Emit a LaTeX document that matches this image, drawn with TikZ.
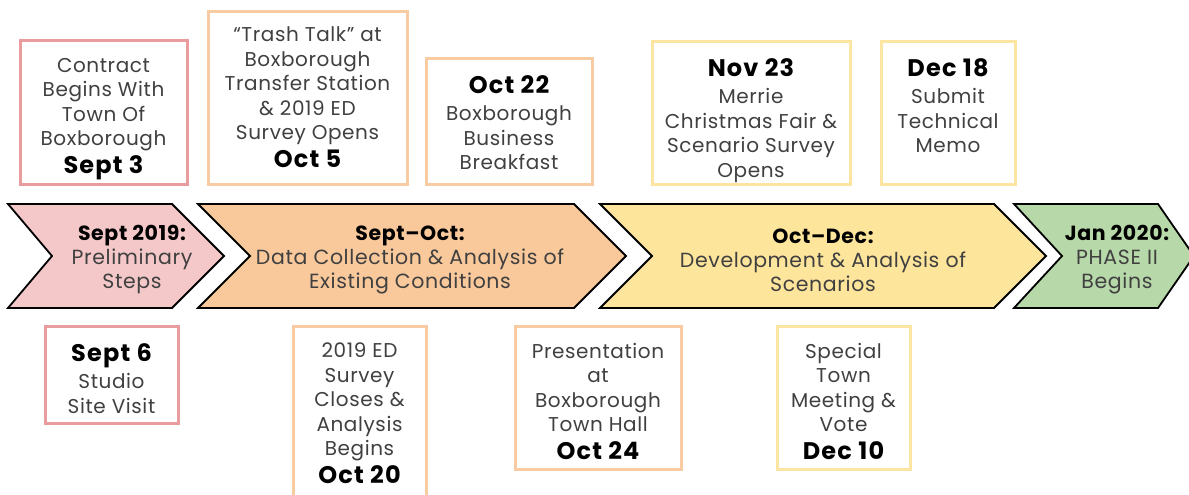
\documentclass[tikz,border=0pt]{standalone}
\usepackage{fontspec}
\setmainfont[LetterSpace=3]{Poppins}
\definecolor{pinkfill}{HTML}{F4C8C9}
\definecolor{orangefill}{HTML}{F9C99C}
\definecolor{yellowfill}{HTML}{FEE59C}
\definecolor{greenfill}{HTML}{B7D8A9}
\definecolor{pinkline}{HTML}{E89C9E}
\definecolor{orangeline}{HTML}{F8CBA2}
\definecolor{yellowline}{HTML}{FBE5A0}
\definecolor{txtgrey}{HTML}{404040}
\newcommand{\datefont}{\fontsize{24}{24.5}\selectfont\bfseries\addfontfeature{LetterSpace=5}\color{black}}
\newcommand{\headfont}{\fontsize{20.5}{24}\selectfont\bfseries\color{black}}
\begin{document}
\begin{tikzpicture}[x=1pt,y=1pt,
  evbox/.style={draw, line width=3pt, fill=white, minimum width=#1, inner sep=0pt},
  evtext/.style={anchor=north, align=center, inner sep=0pt, text=txtgrey,
    font=\fontsize{20}{24.5}\selectfont},
  chev/.style={draw=black, line width=1.8pt, line join=miter},
  chevtext/.style={align=center, inner sep=0pt, text=txtgrey,
    font=\fontsize{20.5}{24}\selectfont}]
\useasboundingbox (0,0) rectangle (1189,495);
\fill[white] (0,0) rectangle (1189,495);

% chevrons
\draw[chev, fill=pinkfill] (8,291) -- (172,291) -- (224,239) -- (172,187) -- (8,187) -- (52,239) -- cycle;
\draw[chev, fill=orangefill] (198,291) -- (574,291) -- (626,239) -- (574,187) -- (198,187) -- (250,239) -- cycle;
\draw[chev, fill=yellowfill] (600,291) -- (994,291) -- (1046,239) -- (994,187) -- (600,187) -- (652,239) -- cycle;
\draw[chev, fill=greenfill] (1014,291) -- (1158,291) -- (1194,239) -- (1158,187) -- (1014,187) -- (1062,239) -- cycle;

\node[chevtext] (c1) at (132,235) {{\headfont Sept 2019:}\\Preliminary\\Steps};
\node[chevtext] (c2) at (410,235) {{\headfont Sept–Oct:}\\Data Collection \& Analysis of\\Existing Conditions};
\node[chevtext] (c3) at (823,235) {{\headfont Oct–Dec:}\\Development \& Analysis of\\Scenarios};
\node[chevtext] (c4) at (1117,235) {{\headfont Jan 2020:}\\PHASE II\\Begins};

% top boxes
\node[evbox=167pt, draw=pinkline, minimum height=144pt] (b1) at (103.5,382) {};
\node[evbox=199pt, draw=orangeline, minimum height=173pt] (b2) at (307.5,396.5) {};
\node[evbox=166pt, draw=orangeline, minimum height=126pt] (b3) at (509,373) {};
\node[evbox=198pt, draw=yellowline, minimum height=143pt] (b4) at (751,381.5) {};
\node[evbox=134pt, draw=yellowline, minimum height=143pt] (b5) at (948,381.5) {};
% bottom boxes
\node[evbox=133pt, draw=pinkline, minimum height=97pt] (b6) at (111.5,119.5) {};
\node[evbox=133pt, draw=orangeline, minimum height=170pt] (b7) at (359.5,83) {};
\node[evbox=166pt, draw=orangeline, minimum height=143pt] (b8) at (598,96.5) {};
\node[evbox=133pt, draw=yellowline, minimum height=143pt] (b9) at (843.5,96.5) {};

% texts
\node[evtext] (t1) at (103.5,437) {Contract\\Begins With\\Town Of\\Boxborough\\[3pt]{\datefont Sept 3}};
\node[evtext] (t2) at (307.5,468) {“Trash Talk” at\\Boxborough\\Transfer Station\\\& 2019 ED\\Survey Opens\\[3pt]{\datefont Oct 5}};
\node[evtext] (t3) at (509,420) {{\datefont Oct 22}\\[3pt]Boxborough\\Business\\Breakfast};
\node[evtext] (t4) at (751,437) {{\datefont Nov 23}\\[3pt]Merrie\\Christmas Fair \&\\Scenario Survey\\Opens};
\node[evtext] (t5) at (948,437) {{\datefont Dec 18}\\[3pt]Submit\\Technical\\Memo};
\node[evtext] (t6) at (111.5,152) {{\datefont Sept 6}\\[3pt]Studio\\Site Visit};
\node[evtext] (t7) at (359.5,152) {2019 ED\\Survey\\Closes \&\\Analysis\\Begins\\[3pt]{\datefont Oct 20}};
\node[evtext] (t8) at (598,152) {Presentation\\at\\Boxborough\\Town Hall\\[3pt]{\datefont Oct 24}};
\node[evtext] (t9) at (843.5,152) {Special\\Town\\Meeting \&\\Vote\\[3pt]{\datefont Dec 10}};
\end{tikzpicture}
\end{document}
